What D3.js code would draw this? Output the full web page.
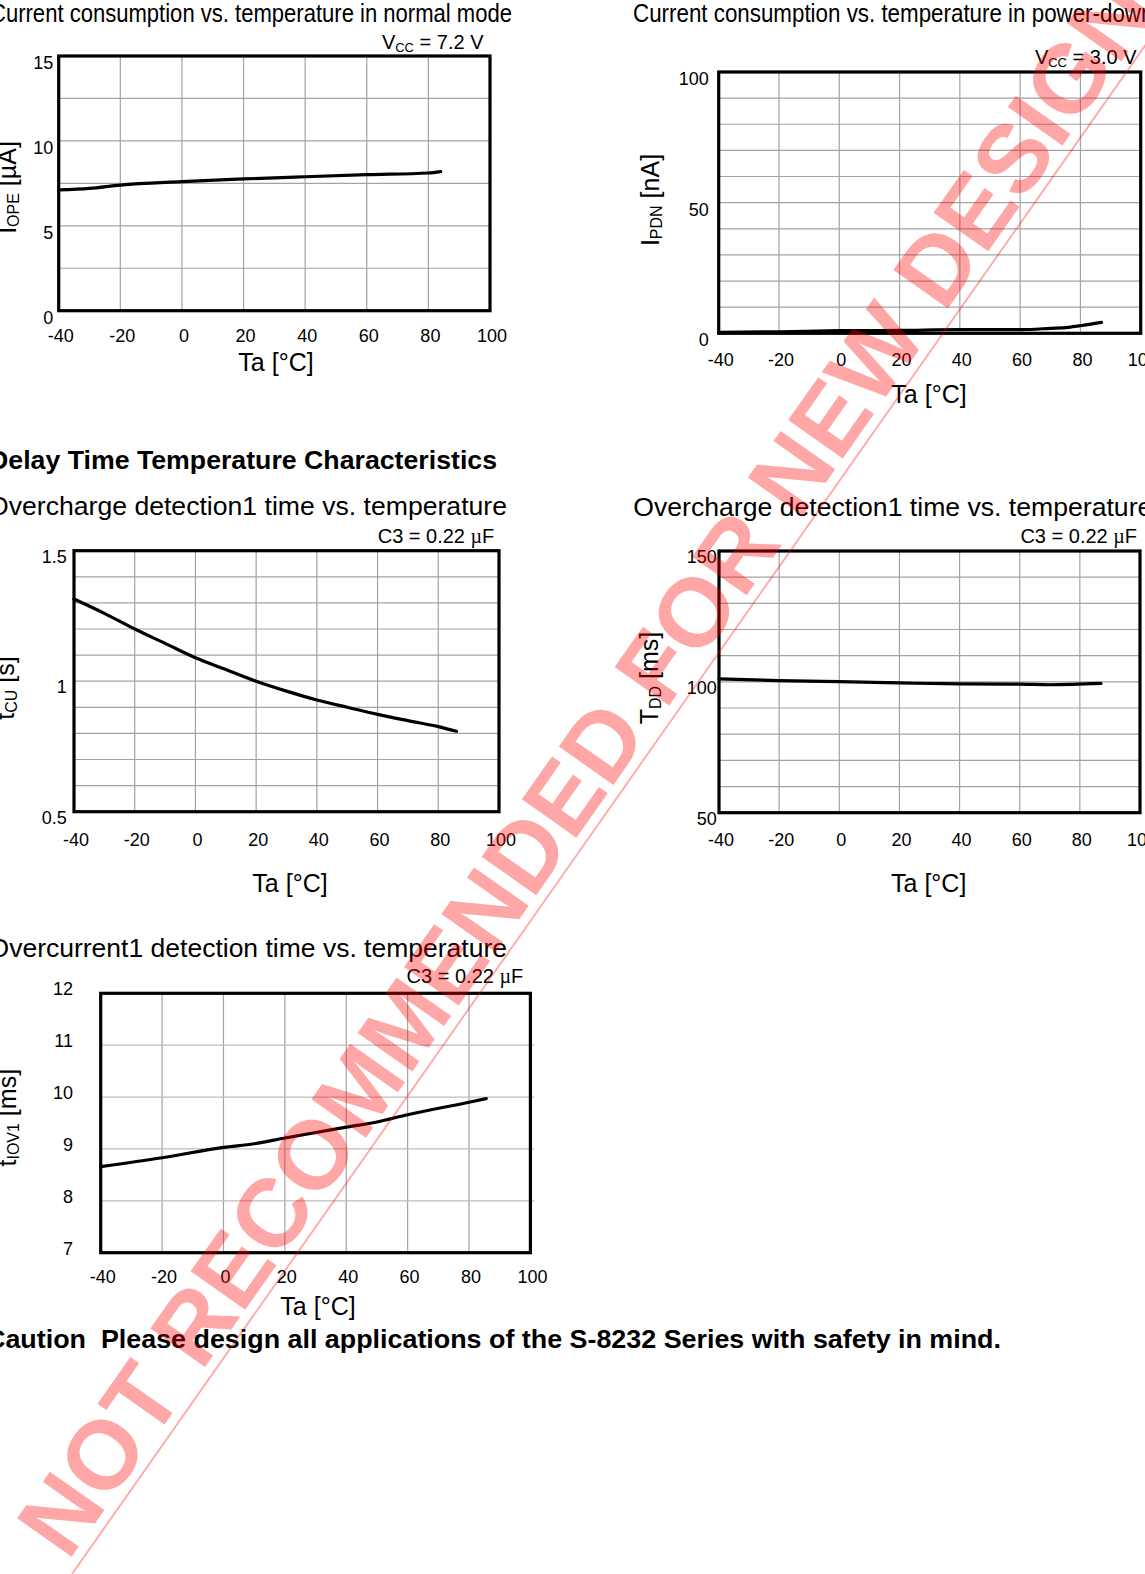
<!DOCTYPE html>
<html>
<head>
<meta charset="utf-8">
<script src="https://cdn.jsdelivr.net/npm/d3@7"></script>
<style>
body { margin: 0; background: #fff; }
svg { display: block; }
text { font-family: "Liberation Sans", Arial, Helvetica, sans-serif; fill: #000; }
</style>
</head>
<body>
<svg width="1145" height="1574"></svg>
<script>
// shared temperature axis
var tempTicks = [-40, -20, 0, 20, 40, 60, 80, 100];

// I_OPE [uA], normal mode, Vcc = 7.2 V
var opeTemp = [-40, -30, -20, 0, 20, 40, 60, 80, 84];
var opeVal  = [7.11, 7.2, 7.4, 7.6, 7.76, 7.89, 8.01, 8.11, 8.19];
var opeTicks = [0, 5, 10, 15];
var opeGrid = [2.5, 5, 7.5, 10, 12.5];

// I_PDN [nA], power-down, Vcc = 3.0 V
var pdnTemp = [-40, -20, 0, 20, 40, 60, 70, 76, 80, 87];
var pdnVal  = [0.4, 0.6, 1.0, 1.1, 1.4, 1.4, 1.9, 2.3, 2.9, 4.2];
var pdnTicks = [0, 50, 100];
var pdnGrid = [10, 20, 30, 40, 50, 60, 70, 80, 90];

// t_CU [s]
var cuTemp = [-40, -30, -20, -10, 0, 10, 20, 30, 40, 50, 60, 70, 80, 86];
var cuVal  = [1.315, 1.26, 1.2, 1.145, 1.09, 1.045, 1.0, 0.962, 0.928, 0.9, 0.873, 0.849, 0.826, 0.808];
var cuTicks = [0.5, 1, 1.5];
var cuGrid = [0.6, 0.7, 0.8, 0.9, 1.0, 1.1, 1.2, 1.3, 1.4];

// T_DD [ms]
var ddTemp = [-40, -20, 0, 20, 40, 60, 70, 87];
var ddVal  = [101.1, 100.5, 100.1, 99.6, 99.2, 99.1, 98.9, 99.4];
var ddTicks = [50, 100, 150];
var ddGrid = [60, 70, 80, 90, 100, 110, 120, 130, 140];

// t_IOV1 [ms]
var iovTemp = [-40, -20, 0, 10, 20, 40, 50, 60, 80, 85.6];
var iovVal  = [8.66, 8.83, 9.03, 9.1, 9.21, 9.42, 9.52, 9.66, 9.9, 9.97];
var iovTicks = [7, 8, 9, 10, 11, 12];
var iovGrid = [8, 9, 10, 11];

var svg = d3.select("svg");
var plain = function(d) { return String(d); };

function chart(o) {
  var g = svg.append("g");
  var x = d3.scaleLinear().domain([-40, 100]).range([o.left, o.right]);
  var y = d3.scaleLinear().domain(o.yDomain).range([o.bottom, o.top]);

  // grid
  g.selectAll(".vg").data(tempTicks.slice(1, -1)).enter().append("line")
    .attr("x1", function(d) { return x(d); }).attr("x2", function(d) { return x(d); })
    .attr("y1", o.top).attr("y2", o.bottom)
    .attr("stroke", "#a3a3a3").attr("stroke-width", 1.2);
  g.selectAll(".hg").data(o.grid).enter().append("line")
    .attr("x1", o.left).attr("x2", o.right + (o.gridExt || 0))
    .attr("y1", function(d) { return y(d); }).attr("y2", function(d) { return y(d); })
    .attr("stroke", o.hColor || "#a3a3a3").attr("stroke-width", 1.2);

  // frame
  g.append("rect")
    .attr("x", o.left).attr("y", o.top)
    .attr("width", o.right - o.left).attr("height", o.bottom - o.top)
    .attr("fill", "none").attr("stroke", "#000").attr("stroke-width", 3.2);

  // curve
  var line = d3.line().curve(d3.curveMonotoneX)
    .x(function(d) { return x(d[0]); })
    .y(function(d) { return y(d[1]); });
  g.append("path").datum(d3.zip(o.temps, o.vals))
    .attr("d", line).attr("fill", "none")
    .attr("stroke", "#000").attr("stroke-width", 3.2).attr("stroke-linecap", "round");

  // axes (labels only)
  var ax = g.append("g").attr("transform", "translate(0," + o.bottom + ")")
    .call(d3.axisBottom(x).tickValues(tempTicks).tickSize(0).tickPadding(o.xPad).tickFormat(plain));
  ax.select(".domain").remove();
  ax.attr("font-family", null).attr("font-size", 18);
  ax.selectAll("text").attr("dx", 1.5);

  var ay = g.append("g").attr("transform", "translate(" + o.left + ",0)")
    .call(d3.axisLeft(y).tickValues(o.ticks).tickSize(0).tickPadding(o.yPad).tickFormat(plain));
  ay.select(".domain").remove();
  ay.attr("font-family", null).attr("font-size", 18);
  ay.selectAll("text").attr("dy", (18 * 0.36 + o.yOff) + "px");

  // x title
  g.append("text").attr("x", o.xt[0]).attr("y", o.xt[1])
    .attr("text-anchor", "middle").attr("font-size", 25).text("Ta [°C]");

  // y title with subscript
  var yt = g.append("text")
    .attr("transform", "translate(" + o.yt[0] + "," + o.yt[1] + ") rotate(-90)")
    .attr("text-anchor", "middle").attr("font-size", 25);
  yt.append("tspan").text(o.yName[0]);
  yt.append("tspan").attr("font-size", 16).attr("dy", 2.5).text(o.yName[1]);
  yt.append("tspan").attr("dy", -2.5).text(" " + o.yName[2]);
}

function vccNote(xr, yb, val) {
  var t = svg.append("text").attr("x", xr).attr("y", yb)
    .attr("text-anchor", "end").attr("font-size", 20);
  t.append("tspan").text("V");
  t.append("tspan").attr("font-size", 13).attr("dy", 3.5).text("CC");
  t.append("tspan").attr("dy", -3.5).text(" = " + val);
}

function capNote(xr, yb) {
  var t = svg.append("text").attr("x", xr).attr("y", yb)
    .attr("text-anchor", "end").attr("font-size", 20);
  t.append("tspan").text("C3 = 0.22 ");
  t.append("tspan").style("font-family", "'Liberation Serif', 'Times New Roman', serif").text("µ");
  t.append("tspan").text("F");
}

function fitText(x, y, size, len, str, bold) {
  return svg.append("text").attr("x", x).attr("y", y).attr("font-size", size)
    .attr("font-weight", bold ? "bold" : null)
    .attr("textLength", len).attr("lengthAdjust", "spacingAndGlyphs")
    .text(str);
}

// titles
var t1 = svg.append("text").attr("x", -10).attr("y", 22).attr("font-size", 26.5)
  .text("Current consumption vs. temperature in normal mode");
var squeeze = 522 / t1.node().getComputedTextLength();
t1.attr("textLength", 522).attr("lengthAdjust", "spacingAndGlyphs");
var t2 = svg.append("text").attr("x", 633).attr("y", 22).attr("font-size", 26.5)
  .text("Current consumption vs. temperature in power-down");
t2.attr("textLength", t2.node().getComputedTextLength() * squeeze + 7).attr("lengthAdjust", "spacingAndGlyphs");

vccNote(483.5, 48.5, "7.2 V");
vccNote(1136.5, 63.5, "3.0 V");

fitText(-11, 468.5, 25.5, 508, "Delay Time Temperature Characteristics", true);

fitText(-12, 515, 26.5, 519, "Overcharge detection1 time vs. temperature");
fitText(633.3, 516, 26.5, 519, "Overcharge detection1 time vs. temperature");
svg.append("text").attr("x", 507).attr("y", 956.7).attr("text-anchor", "end")
  .attr("font-size", 26.5).text("Overcurrent1 detection time vs. temperature");

capNote(494.3, 543.3);
capNote(1137, 543.3);
capNote(523.2, 983.3);

chart({ left: 58.7, right: 490, top: 56, bottom: 310.7, yDomain: [0, 15],
  temps: opeTemp, vals: opeVal, ticks: opeTicks, grid: opeGrid,
  xPad: 18.9, yPad: 5.4, yOff: 6, xt: [276, 371], yt: [16, 187.5], yName: ["I", "OPE", "[µA]"] });

chart({ left: 718.7, right: 1140.7, top: 72, bottom: 333.3, yDomain: [0, 100],
  temps: pdnTemp, vals: pdnVal, ticks: pdnTicks, grid: pdnGrid,
  xPad: 20.3, yPad: 10, yOff: 6, xt: [929, 403], yt: [659, 200], yName: ["I", "PDN", "[nA]"] });

chart({ left: 74, right: 499, top: 550.7, bottom: 811.7, yDomain: [0.5, 1.5],
  temps: cuTemp, vals: cuVal, ticks: cuTicks, grid: cuGrid,
  xPad: 21.9, yPad: 7.3, yOff: 5, xt: [290, 891.5], yt: [14, 688], yName: ["t", "CU", "[s]"] });

chart({ left: 719, right: 1140, top: 551, bottom: 812.7, yDomain: [50, 150],
  temps: ddTemp, vals: ddVal, ticks: ddTicks, grid: ddGrid,
  xPad: 20.2, yPad: 2.3, yOff: 5, xt: [928.7, 891.5], yt: [658, 678], yName: ["T", "DD", "[ms]"] });

chart({ left: 100.7, right: 530.4, top: 993.3, bottom: 1252.7, yDomain: [7, 12],
  temps: iovTemp, vals: iovVal, ticks: iovTicks, grid: iovGrid, hColor: "#bdbdbd", gridExt: 4,
  xPad: 17.5, yPad: 27.7, yOff: -5, xt: [318, 1315], yt: [16, 1117.7], yName: ["t", "IOV1", "[ms]"] });

fitText(-14, 1348, 26, 1015, "Caution  Please design all applications of the S-8232 Series with safety in mind.", true)
  .style("white-space", "pre");

// watermark
var ang = Math.atan2(1574, 1105) * 180 / Math.PI;
svg.append("line").attr("x1", 72).attr("y1", 1574).attr("x2", 1177).attr("y2", 0)
  .attr("stroke", "#ff0000").attr("stroke-opacity", 0.35).attr("stroke-width", 1.8);
svg.append("text").attr("transform", "translate(68,1562) rotate(" + (-ang) + ")")
  .attr("font-size", 97).attr("font-weight", "bold")
  .style("fill", "#ff0000").style("fill-opacity", 0.35)
  .text("NOT RECOMMENDED FOR NEW DESIGN");
</script>
</body>
</html>
